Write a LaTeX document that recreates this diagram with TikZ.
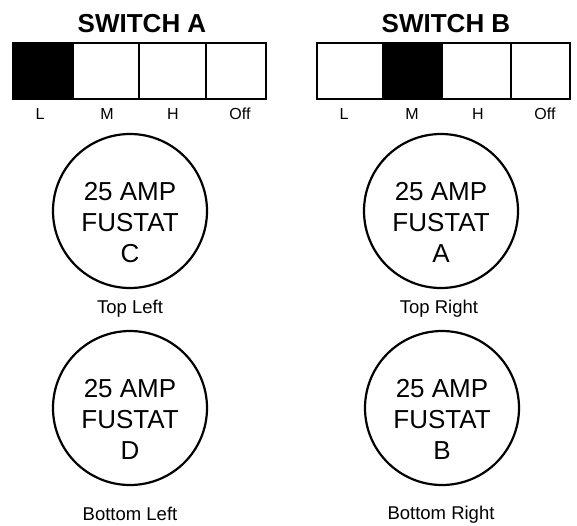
\documentclass[tikz,border=0pt]{standalone}
\usepackage{fontspec}
\setmainfont{Liberation Sans}
\begin{document}
\begin{tikzpicture}[x=1pt,y=-1pt,
  box/.style={draw, line width=2pt, minimum height=56pt, inner sep=0pt, outer sep=0pt},
  onbox/.style={box, fill=black},
  swlabel/.style={font=\fontsize{16}{18}\selectfont, anchor=base, inner sep=0pt},
  swtitle/.style={font=\bfseries\fontsize{26}{30}\selectfont, anchor=base, inner sep=0pt},
  fuse/.style={draw, circle, line width=2.2pt, minimum size=154pt, inner sep=0pt},
  fusetext/.style={align=center, font=\fontsize{26}{31}\selectfont, inner sep=0pt},
  loclabel/.style={font=\fontsize{18.5}{22}\selectfont, anchor=base, inner sep=0pt}]
\useasboundingbox (0,0) rectangle (577,525);
% Switch A
\node[swtitle] (ta) at (142,32) {SWITCH A};
\node[onbox, minimum width=60pt] (a1) at (43,71) {};
\node[box, minimum width=66pt] (a2) at (106,71) {};
\node[box, minimum width=67pt] (a3) at (172.5,71) {};
\node[box, minimum width=60pt] (a4) at (236,71) {};
\node[swlabel] (al) at (40,119) {L};
\node[swlabel] (am) at (107,119) {M};
\node[swlabel] (ah) at (173,119) {H};
\node[swlabel] (ao) at (240,119) {Off};
% Switch B
\node[swtitle] (tb) at (446,32) {SWITCH B};
\node[box, minimum width=66pt] (b1) at (350,71) {};
\node[onbox, minimum width=59pt] (b2) at (412.5,71) {};
\node[box, minimum width=69pt] (b3) at (476.5,71) {};
\node[box, minimum width=59pt] (b4) at (540.5,71) {};
\node[swlabel] (bl) at (344,119) {L};
\node[swlabel] (bm) at (412,119) {M};
\node[swlabel] (bh) at (478,119) {H};
\node[swlabel] (bo) at (545,119) {Off};
% Fustats
\node[fuse] (fc) at (130,211) {};
\node[fusetext] (fct) at ([yshift=-11.5pt]fc.center) {25 AMP\\FUSTAT\\C};
\node[loclabel] (lc) at (130,313) {Top Left};
\node[fuse] (fa) at (441,211) {};
\node[fusetext] (fat) at ([yshift=-11.5pt]fa.center) {25 AMP\\FUSTAT\\A};
\node[loclabel] (la) at (439,313) {Top Right};
\node[fuse] (fd) at (130,408) {};
\node[fusetext] (fdt) at ([yshift=-11.5pt]fd.center) {25 AMP\\FUSTAT\\D};
\node[loclabel] (ld) at (130,520) {Bottom Left};
\node[fuse] (fb) at (442,408) {};
\node[fusetext] (fbt) at ([yshift=-11.5pt]fb.center) {25 AMP\\FUSTAT\\B};
\node[loclabel] (lb) at (441,519) {Bottom Right};
\end{tikzpicture}
\end{document}
